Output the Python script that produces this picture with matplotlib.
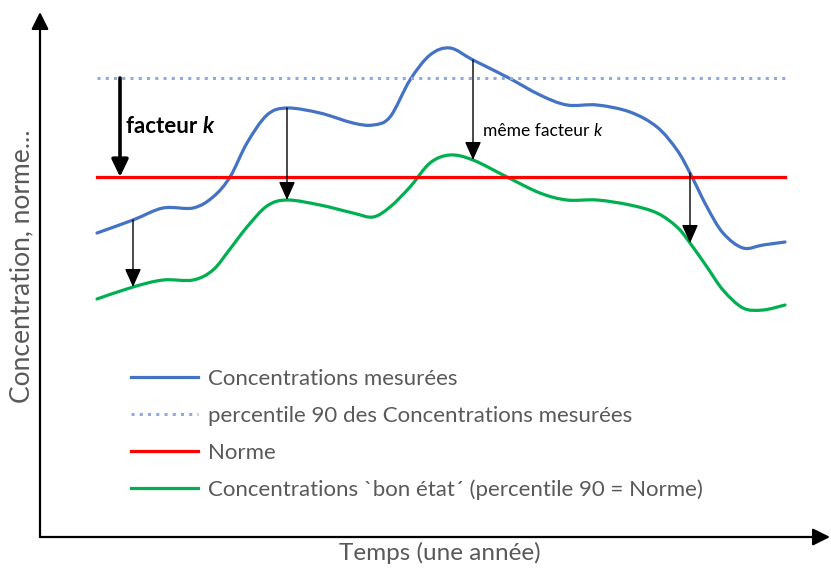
import matplotlib
matplotlib.use("Agg")
import matplotlib.pyplot as plt
from matplotlib.path import Path
from matplotlib.patches import PathPatch
from matplotlib.lines import Line2D

plt.rcParams['font.family'] = ['Lato', 'DejaVu Sans']

# time axis (arbitrary units along one year) and concentrations
temps = [97, 133, 163, 193, 213, 230, 247, 267, 287, 320, 353, 373, 390, 410, 430,
         450, 473, 507, 540, 567, 597, 630, 657, 677, 690, 707, 723, 743, 763, 785]
conc_mesurees = [304, 317, 329, 329, 340, 360, 394, 422, 429, 424, 414, 412, 420, 457, 482,
                 489, 477, 460, 442, 432, 432, 425, 410, 387, 364, 330, 304, 289, 292, 295]
conc_bon_etat = [238, 250, 257, 257, 267, 288, 310, 331, 337, 332, 324, 320, 330, 350, 374,
                 382, 377, 360, 344, 337, 337, 332, 324, 310, 294, 270, 247, 229, 227, 232]
percentile90 = 459
norme = 360

# points where the "factor k" arrows are drawn
idx_fleches = [1, 8, 16, 24]
x_facteur = 120

labels = ["Concentrations mesurées",
          "percentile 90 des Concentrations mesurées",
          "Norme",
          "Concentrations `bon état´ (percentile 90 = Norme)"]

gris = '#595959'
bleu, bleu_clair, rouge, vert = '#4472c4', '#8faadc', '#ff0000', '#00b050'


def courbe_lisse(xs, ys):
    # smooth curve through the points (Catmull-Rom drawn as bezier segments)
    pts = list(zip(xs, ys))
    verts = [pts[0]]
    codes = [Path.MOVETO]
    n = len(pts)
    for i in range(n - 1):
        p0 = pts[max(i - 1, 0)]
        p1 = pts[i]
        p2 = pts[i + 1]
        p3 = pts[min(i + 2, n - 1)]
        c1 = (p1[0] + (p2[0] - p0[0]) / 6, p1[1] + (p2[1] - p0[1]) / 6)
        c2 = (p2[0] - (p3[0] - p1[0]) / 6, p2[1] - (p3[1] - p1[1]) / 6)
        verts += [c1, c2, p2]
        codes += [Path.CURVE4] * 3
    return Path(verts, codes)


fig = plt.figure(figsize=(8.31, 5.70), dpi=100)
ax = fig.add_axes([0, 0, 1, 1])
ax.set_xlim(0, 831)
ax.set_ylim(-33, 537)
ax.axis('off')

x0, x1 = temps[0], temps[-1]
ax.add_patch(PathPatch(courbe_lisse(temps, conc_mesurees), facecolor='none',
                       edgecolor=bleu, lw=2.3, capstyle='round', joinstyle='round'))
ax.plot([x0, x1], [percentile90, percentile90], color=bleu_clair, lw=2.2,
        linestyle=(0, (1, 1.7)))
ax.plot([x0, x1], [norme, norme], color=rouge, lw=2.3)
ax.add_patch(PathPatch(courbe_lisse(temps, conc_bon_etat), facecolor='none',
                       edgecolor=vert, lw=2.3, capstyle='round', joinstyle='round'))

# axes with arrows
ax.annotate('', xy=(40, 525), xytext=(40, 0),
            arrowprops=dict(arrowstyle='-|>', color='black', lw=1.6,
                            mutation_scale=26, shrinkA=0, shrinkB=0))
ax.annotate('', xy=(830, 0), xytext=(40, 0),
            arrowprops=dict(arrowstyle='-|>', color='black', lw=1.6,
                            mutation_scale=26, shrinkA=0, shrinkB=0))

# thick arrow: percentile 90 -> Norme
ax.annotate('', xy=(x_facteur, norme), xytext=(x_facteur, percentile90),
            arrowprops=dict(arrowstyle='-|>,head_length=0.42,head_width=0.2', color='black',
                            lw=2.6, mutation_scale=25, shrinkA=0, shrinkB=0))

# thin arrows from measured to "bon état"
for i in idx_fleches:
    ax.annotate('', xy=(temps[i], conc_bon_etat[i]), xytext=(temps[i], conc_mesurees[i]),
                arrowprops=dict(arrowstyle='-|>,head_length=0.45,head_width=0.2',
                                color='black', lw=1.0, mutation_scale=25,
                                shrinkA=0, shrinkB=0))

t1 = ax.text(126, 537 - 137, "facteur ", fontsize=16, fontweight='bold',
             color='black', ha='left', va='bottom')
ax.annotate("k", xy=(1, 0), xycoords=t1, fontsize=16, fontweight='bold',
            fontstyle='italic', color='black', ha='left', va='bottom')

t2 = ax.text(483, 537 - 139, "même facteur ", fontsize=12.5, color='black',
             ha='left', va='bottom')
ax.annotate("k", xy=(1, 0), xycoords=t2, fontsize=12.5, fontstyle='italic',
            color='black', ha='left', va='bottom')

ax.text(22, 537 - 266, "Concentration, norme...", rotation=90, fontsize=19,
        color=gris, ha='center', va='center')
ax.text(440, 537 - 553, "Temps (une année)", fontsize=17.5, color=gris,
        ha='center', va='center')

handles = [Line2D([], [], color=bleu, lw=2.3),
           Line2D([], [], color=bleu_clair, lw=2.2, linestyle=(0, (1, 1.7))),
           Line2D([], [], color=rouge, lw=2.3),
           Line2D([], [], color=vert, lw=2.3)]
leg = ax.legend(handles, labels, loc='upper left',
                bbox_to_anchor=(131 / 831, 1 - 369 / 570), frameon=False,
                fontsize=16, handlelength=3.0, handletextpad=0.45,
                labelspacing=0.76, borderpad=0, borderaxespad=0)
for t in leg.get_texts():
    t.set_color(gris)

fig.savefig('out.png', dpi=100)
